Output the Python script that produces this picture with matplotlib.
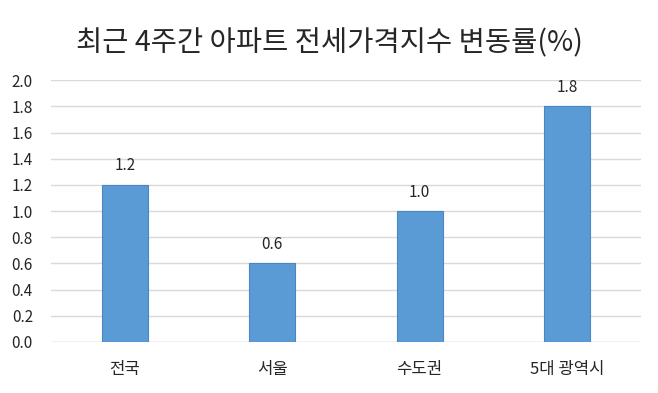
import matplotlib.pyplot as plt
import numpy as np

plt.rcParams['font.family'] = ['Noto Sans CJK KR', 'DejaVu Sans']

regions = ["전국", "서울", "수도권", "5대 광역시"]
changes = [1.2, 0.6, 1.0, 1.8]
yticks = np.arange(0, 2.01, 0.2)

fig = plt.figure(figsize=(6.58, 3.93), dpi=100)
ax = fig.add_axes([0.0775, 0.13, 0.8965, 0.666])

x = np.arange(len(regions))
bars = ax.bar(x, changes, width=0.31, color="#5B9BD5", edgecolor="#4A87C0",
              linewidth=0.8, zorder=3)
for xi, v in zip(x, changes):
    ax.text(xi, v + 0.08, f"{v:.1f}", ha="center", va="bottom",
            fontsize=11, color="#262626")

ax.set_xlim(-0.5, len(regions) - 0.5)
ax.set_ylim(0, 2.0)
ax.set_yticks(yticks)
ax.set_yticklabels([f"{t:.1f}" for t in yticks])
ax.set_xticks(x)
ax.set_xticklabels(regions)
ax.yaxis.grid(True, color="#D9D9D9", linewidth=1, zorder=0)
ax.tick_params(axis="both", length=0, labelsize=11, colors="#262626")
ax.tick_params(axis="x", pad=14, labelsize=12)
ax.tick_params(axis="y", pad=13)
for s in ax.spines.values():
    s.set_visible(False)
ax.axhline(0, color="#D9D9D9", linewidth=1, zorder=2)

fig.text(0.5, 0.89, "최근 4주간 아파트 전세가격지수 변동률(%)", ha="center",
         va="center", fontsize=20.5, fontweight="light", color="#262626")

fig.savefig("out.png", dpi=100)
